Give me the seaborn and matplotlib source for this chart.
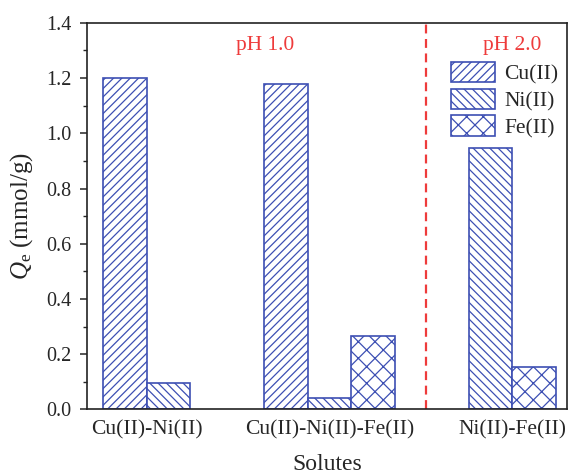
import matplotlib
matplotlib.use("Agg")
import matplotlib.pyplot as plt
import seaborn as sns
import pandas as pd
from matplotlib.patches import Patch
from matplotlib.ticker import MultipleLocator, FormatStrFormatter

# data
groups = ["Cu(II)-Ni(II)", "Cu(II)-Ni(II)-Fe(II)", "Ni(II)-Fe(II)"]
ions = ["Cu(II)", "Ni(II)", "Fe(II)"]
group_ions = [["Cu(II)", "Ni(II)"],
              ["Cu(II)", "Ni(II)", "Fe(II)"],
              ["Ni(II)", "Fe(II)"]]
group_values = [[1.20, 0.096],
                [1.18, 0.043, 0.266],
                [0.945, 0.153]]
ph_labels = ["pH 1.0", "pH 2.0"]

blue = "#3d4fb3"
red = "#ee3b3b"
hatches = {"Cu(II)": "////", "Ni(II)": "\\\\\\\\", "Fe(II)": "xx"}

sns.set_style("ticks")
plt.rcParams["font.family"] = ["Liberation Serif", "DejaVu Serif"]
plt.rcParams["mathtext.fontset"] = "custom"
plt.rcParams["mathtext.rm"] = "Liberation Serif"
plt.rcParams["mathtext.it"] = "Liberation Serif:italic"
plt.rcParams["hatch.color"] = blue
plt.rcParams["hatch.linewidth"] = 0.9

# bars of a group sit side by side around the group's category position
bar_w = 0.238
rows = []
for i, (names, vals) in enumerate(zip(group_ions, group_values)):
    n = len(names)
    for j, (ion, v) in enumerate(zip(names, vals)):
        rows.append({"pos": round(i + (j - (n - 1) / 2) * bar_w, 4), "ion": ion, "Qe": v})
df = pd.DataFrame(rows)

fig, ax = plt.subplots(figsize=(5.73, 4.75), dpi=100)
fig.subplots_adjust(left=0.152, right=0.99, bottom=0.138, top=0.952)

sns.barplot(data=df, x="pos", y="Qe", hue="ion", hue_order=ions,
            palette={k: "white" for k in ions}, native_scale=True, dodge=False,
            width=1.0, edgecolor=blue, linewidth=1.2, legend=False,
            errorbar=None, ax=ax)

for cont, ion in zip(ax.containers, ions):
    for bar in cont:
        bar.set_hatch(hatches[ion])
        bar.set_facecolor("white")

ax.axvline(1.53, color=red, ls=(0, (4, 2.5)), lw=1.6)
ax.text(0.65, 1.318, ph_labels[0], color=red, ha="center", va="center", fontsize=15.5)
ax.text(2.0, 1.318, ph_labels[1], color=red, ha="center", va="center", fontsize=15.5)

ax.set_xlim(-0.325, 2.30)
ax.set_ylim(0, 1.4)
ax.set_xticks(range(len(groups)))
ax.set_xticklabels(groups, fontsize=15.5)
ax.tick_params(axis="x", length=0, pad=8)
ax.yaxis.set_major_locator(MultipleLocator(0.2))
ax.yaxis.set_minor_locator(MultipleLocator(0.1))
ax.yaxis.set_major_formatter(FormatStrFormatter("%.1f"))
ax.tick_params(axis="y", which="major", length=5, width=1.1, labelsize=14.5,
               direction="out", pad=6)
ax.tick_params(axis="y", which="minor", length=3, width=1.0, direction="out")

for sp in ax.spines.values():
    sp.set_visible(True)
    sp.set_linewidth(1.2)
    sp.set_color("#222222")

ax.set_xlabel("Solutes", fontsize=17, labelpad=10)
ax.set_ylabel(r"$Q_\mathrm{e}$ (mmol/g)", fontsize=18, labelpad=8)

handles = [Patch(facecolor="white", edgecolor=blue, hatch=hatches[k], linewidth=1.2, label=k)
           for k in ions]
ax.legend(handles=handles, loc="upper right", bbox_to_anchor=(1.0, 0.922),
          frameon=False, fontsize=15.5, handlelength=2.05, handleheight=1.1,
          labelspacing=0.2, handletextpad=0.45, borderaxespad=0)

fig.savefig("out.png", dpi=100)
